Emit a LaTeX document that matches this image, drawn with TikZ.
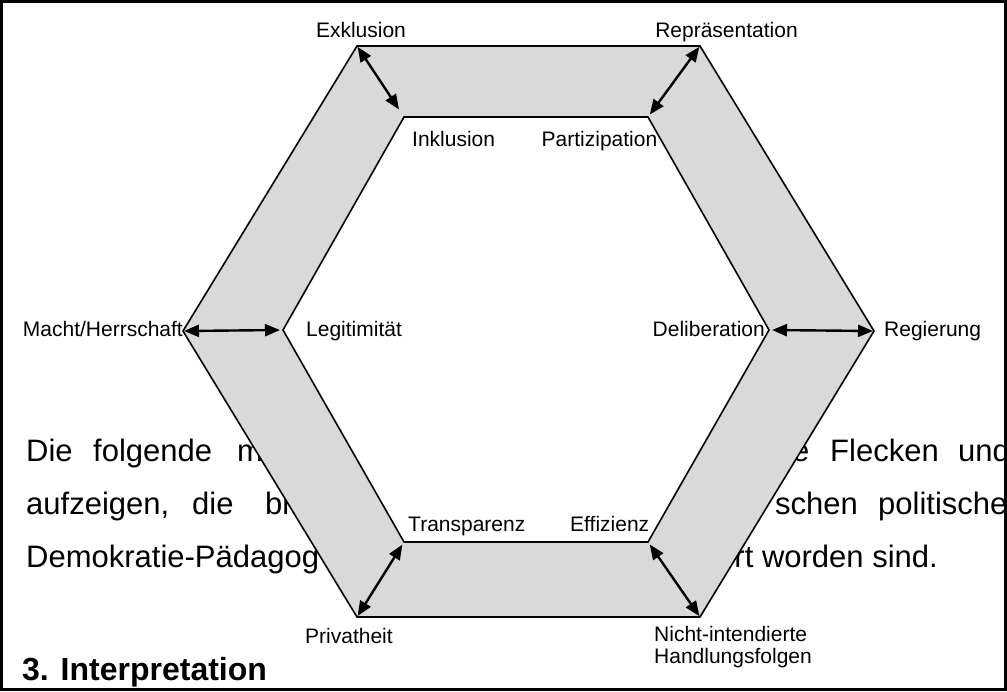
\documentclass[tikz,border=0pt]{standalone}
\usepackage{fontspec}
\setmainfont{Liberation Sans}
\usetikzlibrary{arrows.meta}
\definecolor{bandgray}{RGB}{217,217,217}
\tikzset{
  lbl/.style={font=\fontsize{21}{24}\selectfont, inner sep=0pt},
  bodytxt/.style={font=\fontsize{31}{36}\selectfont, inner sep=0pt, anchor=base west},
  band/.style={fill=bandgray, draw=black, line width=1.6pt, line join=miter},
  innerhex/.style={fill=white, draw=black, line width=1.6pt, line join=miter},
  link/.style={{Triangle[length=15pt,width=12pt]}-{Triangle[length=15pt,width=12pt]},
               line width=2.4pt, shorten <=1pt, shorten >=3pt},
  frame/.style={draw=black, line width=2.5pt}
}
\begin{document}
\begin{tikzpicture}[x=1pt,y=-1pt]
\useasboundingbox (0,0) rectangle (1007,691);

% running text of the page, lying behind the hexagon
\begin{scope}
  \clip (1,1) rectangle (1005,690);
  \node[bodytxt] (t1a) at (26,461) {Die};
  \node[bodytxt] (t1b) at (93,461) {folgende};
  \node[bodytxt] (t1c) at (237,461) {m};
  \node[bodytxt] (t1d) at (792,461) {e};
  \node[bodytxt] (t1e) at (830,461) {Flecken};
  \node[bodytxt] (t1f) at (958,461) {und};
  \node[bodytxt] (t2a) at (26,514) {aufzeigen,};
  \node[bodytxt] (t2b) at (192,514) {die};
  \node[bodytxt] (t2c) at (265,514) {bi};
  \node[bodytxt] (t2d) at (775,514) {schen};
  \node[bodytxt] (t2e) at (878,514) {politische};
  \node[bodytxt] (t3a) at (26,567) {Demokratie-Pädagog};
  \node[bodytxt, anchor=base east] (t3b) at (938,567) {rt worden sind.};
\end{scope}

% hexagon corners
\coordinate (oTL) at (357,46);
\coordinate (oTR) at (700,46);
\coordinate (oR)  at (874,331);
\coordinate (oBR) at (700,617);
\coordinate (oBL) at (357,617);
\coordinate (oL)  at (183,331);
\coordinate (iTL) at (404,117);
\coordinate (iTR) at (648,117);
\coordinate (iR)  at (769,330);
\coordinate (iBR) at (648,542);
\coordinate (iBL) at (404,542);
\coordinate (iL)  at (283,330);

% grey band between the two hexagons
\path[band] (oTL) -- (oTR) -- (oR) -- (oBR) -- (oBL) -- (oL) -- cycle;
\path[innerhex] (iTL) -- (iTR) -- (iR) -- (iBR) -- (iBL) -- (iL) -- cycle;

% tensions between outer and inner poles
\draw[link, shorten >=9pt] (oTL) -- (iTL);
\draw[link] (oTR) -- (iTR);
\draw[link] (oL) -- (iL);
\draw[link] (oR) -- (iR);
\draw[link] (oBL) -- (iBL);
\draw[link] (oBR) -- (iBR);

% pole labels
\node[lbl, anchor=base] (exkl) at (361,37.5) {Exklusion};
\node[lbl, anchor=base] (repr) at (726.5,37.5) {Repräsentation};
\node[lbl, anchor=base west] (inkl) at (412,146.5) {Inklusion};
\node[lbl, anchor=base west] (part) at (541.5,146.5) {Partizipation};
\node[lbl, anchor=base east] (macht) at (183,336) {Macht/Herrschaft};
\node[lbl, anchor=base west] (legi) at (306,336) {Legitimität};
\node[lbl, anchor=base east] (deli) at (765,336) {Deliberation};
\node[lbl, anchor=base west] (regi) at (884,336) {Regierung};
\node[lbl, anchor=base west] (trans) at (408,531.5) {Transparenz};
\node[lbl, anchor=base west] (effi) at (570,531.5) {Effizienz};
\node[lbl, anchor=base west] (priv) at (305,643) {Privatheit};
\node[lbl, anchor=base west] (nicht1) at (654,641) {Nicht-intendierte};
\node[lbl, anchor=base west] (nicht2) at (654,663.5) {Handlungsfolgen};

% section heading below
\node[font=\fontsize{32}{36}\selectfont\bfseries, inner sep=0pt, anchor=base west] (head) at (22,680.5) {3. Interpretation};

% surrounding frame
\draw[frame] (1.25,1.5) rectangle (1005.5,689.5);
\end{tikzpicture}
\end{document}
